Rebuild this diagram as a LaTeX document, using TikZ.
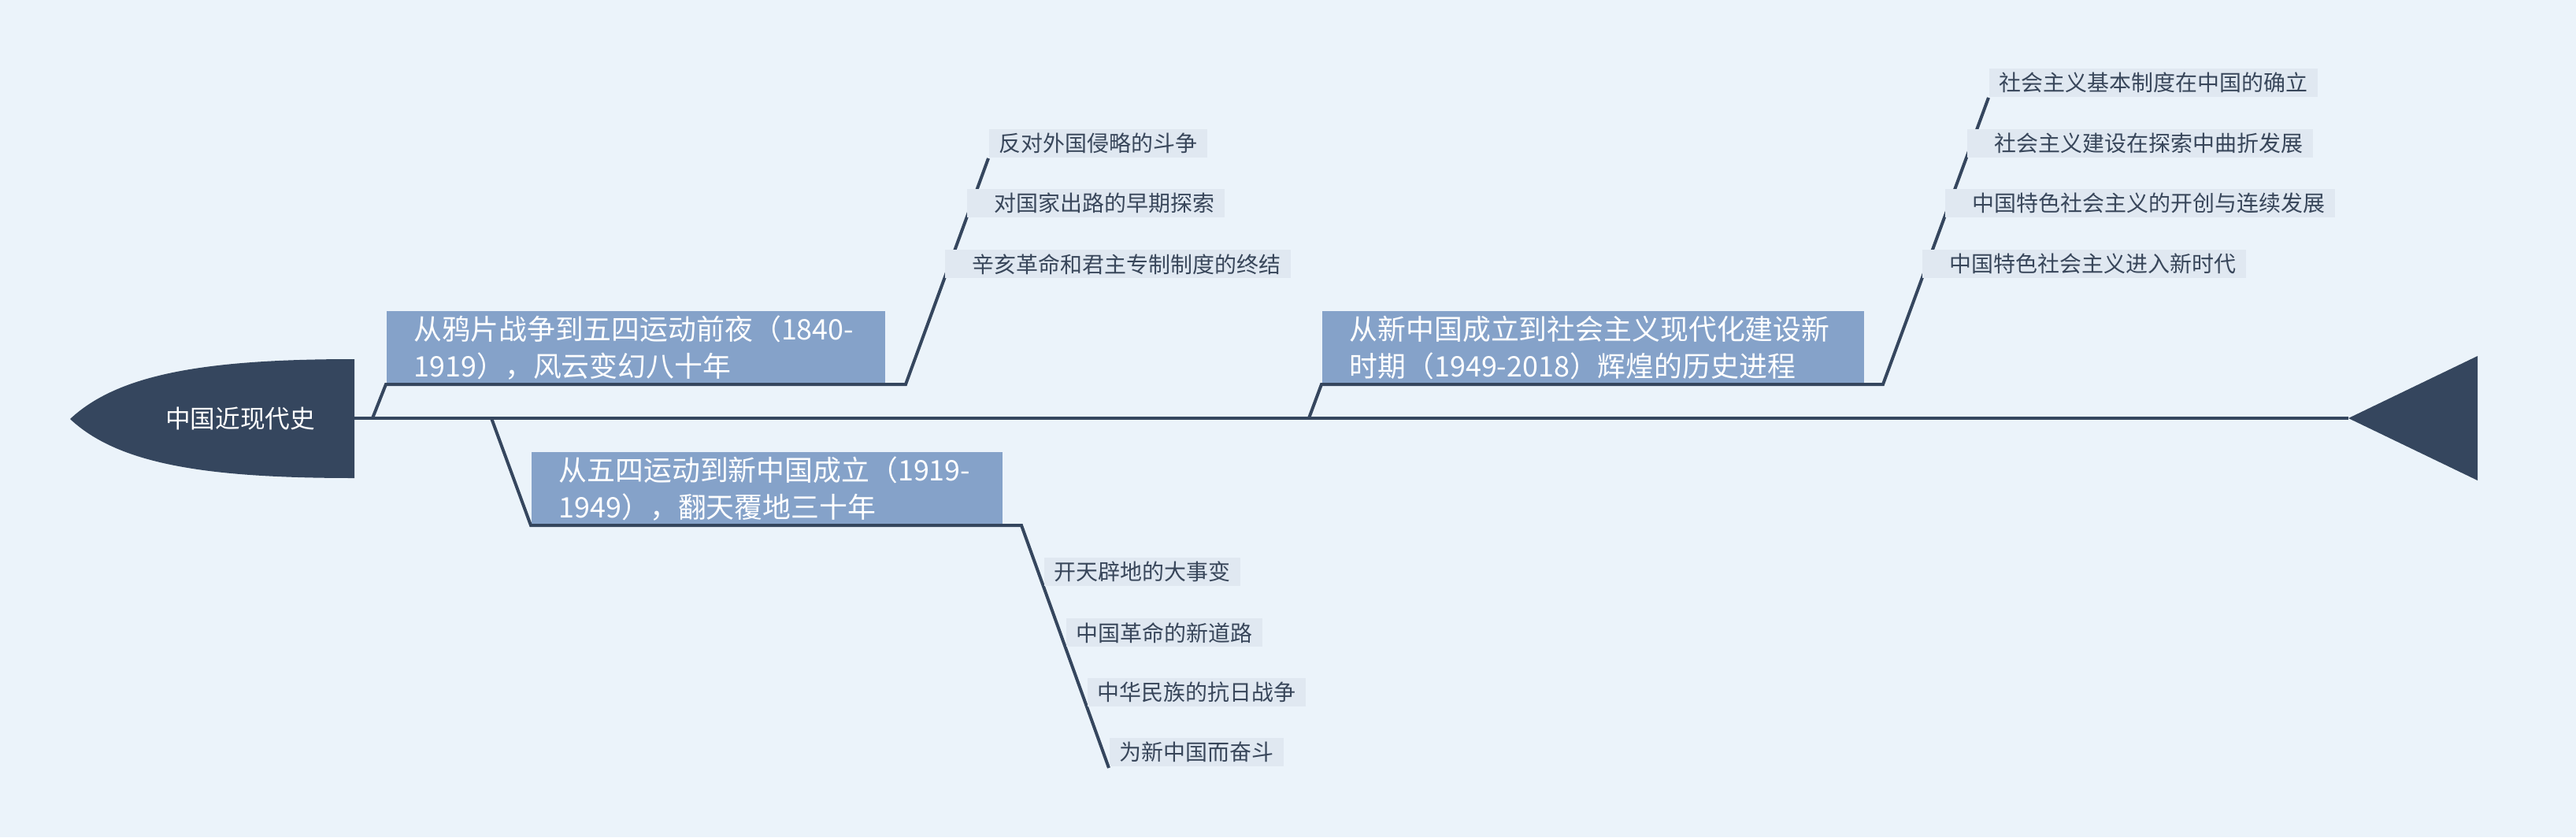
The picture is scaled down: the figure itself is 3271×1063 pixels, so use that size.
\documentclass[tikz,border=0pt]{standalone}
\usepackage{fontspec}
\setmainfont{Noto Sans CJK SC}
\usepackage{xcolor}
\definecolor{bgcol}{RGB}{235,243,250}
\definecolor{navy}{RGB}{53,70,94}
\definecolor{mainblue}{RGB}{133,162,201}
\definecolor{itemfill}{RGB}{224,232,241}
\definecolor{itemtext}{RGB}{56,70,90}

\begin{document}
\begin{tikzpicture}[
    x=0.01cm, y=-0.01cm,
    major/.style={fill=mainblue, text=white, anchor=south west, inner xsep=0.35cm, inner ysep=0pt, minimum height=0.92cm, align=left, font=\fontsize{10.2}{13.4}\selectfont},
    item/.style={fill=itemfill, text=itemtext, anchor=south west, inner xsep=0.13cm, inner ysep=0pt, minimum height=0.36cm, font=\fontsize{7.95}{9.5}\selectfont},
    indent/.style={execute at begin node={\hspace*{0.22cm}}},
    bone/.style={draw=navy, line width=0.04cm}
]
\useasboundingbox (0,0) rectangle (3271,1063);
\fill[bgcol] (0,0) rectangle (3271,1063);

\fill[navy] (89,532) .. controls (150,475) and (260,456) .. (450,456) -- (450,607) .. controls (260,607) and (150,589) .. (89,532) -- cycle;
\node[text=white, font=\fontsize{9}{11}\selectfont] (head) at (305,532) {中国近现代史};

\coordinate (neck) at (450,531);
\coordinate (tail) at (2982,531);
\draw[bone] (neck) -- (tail);
\fill[navy] (tail) -- (3146,452) -- (3146,610) -- cycle;

\node[major, text width=5.63cm] (era1) at (490,488) {从鸦片战争到五四运动前夜（1840-\\1919），风云变幻八十年};
\node[major, text width=5.28cm] (era2) at (674,667) {从五四运动到新中国成立（1919-\\1949），翻天覆地三十年};
\node[major, text width=6.18cm] (era3) at (1678,488) {从新中国成立到社会主义现代化建设新\\时期（1949-2018）辉煌的历史进程};

\coordinate (root1) at (473,531);
\coordinate (knee1) at (1150,488);
\coordinate (top1) at (1255,201);
\draw[bone] (root1) -- (era1.south west) -- (knee1) -- (top1);
\coordinate (root2) at (624,531);
\coordinate (knee2) at (1297,667);
\coordinate (end2) at (1408,975);
\draw[bone] (root2) -- (era2.south west) -- (knee2) -- (end2);
\coordinate (root3) at (1662,531);
\coordinate (knee3) at (2391,488);
\coordinate (top3) at (2525,124);
\draw[bone] (root3) -- (era3.south west) -- (knee3) -- (top3);

\node[item] (e1a) at (1255,201) {反对外国侵略的斗争};
\node[item, indent] (e1b) at (1227,277) {对国家出路的早期探索};
\node[item, indent] (e1c) at (1199,354) {辛亥革命和君主专制制度的终结};

\node[item] (e2a) at (1325,745) {开天辟地的大事变};
\node[item] (e2b) at (1353,822) {中国革命的新道路};
\node[item] (e2c) at (1380,898) {中华民族的抗日战争};
\node[item] (e2d) at (1408,974) {为新中国而奋斗};

\node[item] (e3a) at (2525,124) {社会主义基本制度在中国的确立};
\node[item, indent] (e3b) at (2497,201) {社会主义建设在探索中曲折发展};
\node[item, indent] (e3c) at (2469,277) {中国特色社会主义的开创与连续发展};
\node[item, indent] (e3d) at (2440,354) {中国特色社会主义进入新时代};
\end{tikzpicture}
\end{document}
